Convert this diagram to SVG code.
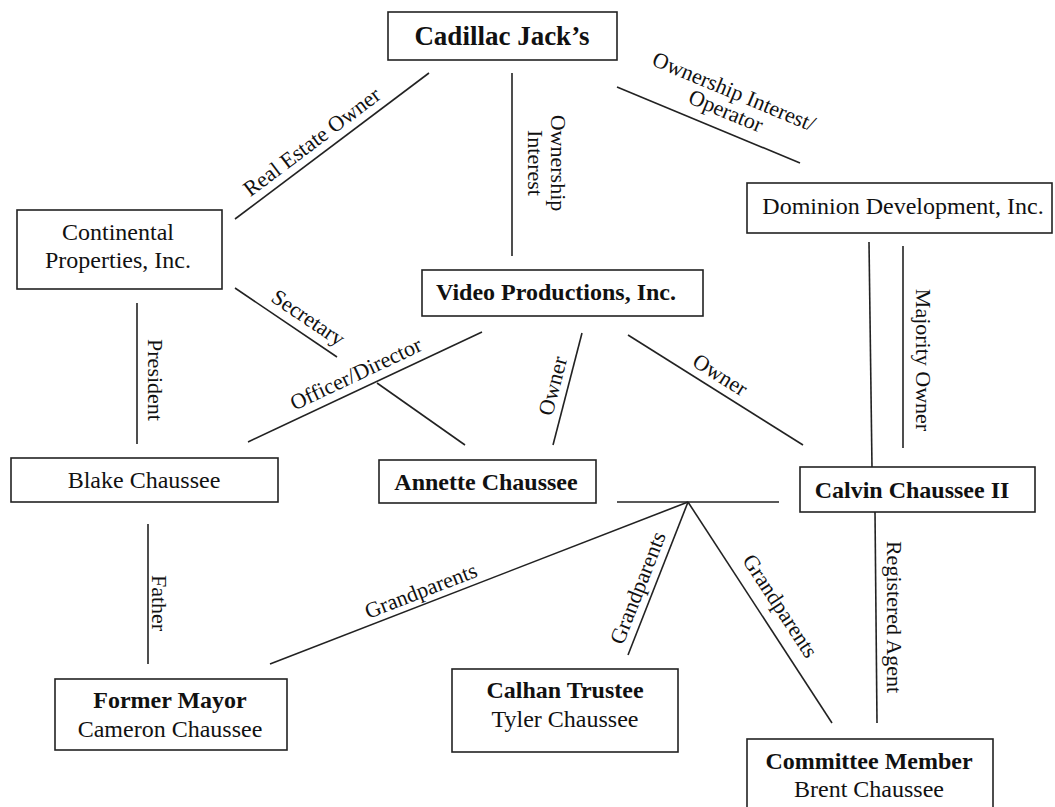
<svg xmlns="http://www.w3.org/2000/svg" width="1055" height="807" viewBox="0 0 1055 807">
<style>
.box{fill:#fff;stroke:#222;stroke-width:1.6}
.t{font-size:24px;fill:#111;text-anchor:middle}
.b{font-weight:bold}
.lbl{font-size:22px;fill:#111;text-anchor:middle}
.c line{stroke:#222;stroke-width:1.6}
</style>
<rect width="1055" height="807" fill="#fff"/>
<g font-family="'Liberation Serif', 'Times New Roman', 'DejaVu Serif', serif">
<g id="connectors" class="c">
<line x1="429" y1="73" x2="235" y2="219"/>
<line x1="512" y1="73" x2="512" y2="256"/>
<line x1="617" y1="87" x2="800" y2="163"/>
<line x1="869" y1="242" x2="872" y2="467"/>
<line x1="903" y1="246" x2="903" y2="448"/>
<line x1="137" y1="303" x2="137" y2="444"/>
<line x1="235" y1="288" x2="337" y2="357"/>
<line x1="248" y1="442" x2="482" y2="332"/>
<line x1="377" y1="383" x2="465" y2="445"/>
<line x1="582" y1="333" x2="553" y2="445"/>
<line x1="628" y1="335" x2="803" y2="445"/>
<line x1="148" y1="524" x2="148" y2="664"/>
<line x1="617" y1="502" x2="779" y2="502"/>
<line x1="688" y1="502" x2="270" y2="664"/>
<line x1="688" y1="502" x2="628" y2="655"/>
<line x1="688" y1="502" x2="832" y2="723"/>
<line x1="875" y1="512" x2="877" y2="723"/>
<g id="labels">
<text class="lbl" transform="translate(312,142) rotate(-37)" y="7">Real Estate Owner</text>
<g transform="translate(540,163) rotate(90)">
<text class="lbl" y="-11">Ownership</text>
<text class="lbl" y="12">Interest</text>
</g>
<g transform="translate(730,101) rotate(22.6)">
<text class="lbl" y="-3">Ownership Interest/</text>
<text class="lbl" y="18">Operator</text>
</g>
<text class="lbl" transform="translate(916,360) rotate(90)">Majority Owner</text>
<text class="lbl" transform="translate(148,380) rotate(90)">President</text>
<text class="lbl" transform="translate(308,318) rotate(34)" y="7">Secretary</text>
<text class="lbl" transform="translate(356,374) rotate(-25.2)" y="7">Officer/Director</text>
<text class="lbl" transform="translate(553,386) rotate(-75.5)" y="7">Owner</text>
<text class="lbl" transform="translate(720,375) rotate(32.2)" y="7">Owner</text>
<text class="lbl" transform="translate(152,603) rotate(90)">Father</text>
<text class="lbl" transform="translate(421,591) rotate(-21.2)" y="7">Grandparents</text>
<text class="lbl" transform="translate(638,588) rotate(-68.6)" y="7">Grandparents</text>
<text class="lbl" transform="translate(780,606) rotate(56.9)" y="7">Grandparents</text>
<text class="lbl" transform="translate(887,617) rotate(90)">Registered Agent</text>
</g>
</g>
<g id="cadillac">
<rect class="box" x="388" y="12" width="229" height="48"/>
<text class="t b" x="502" y="45" style="font-size:27px">Cadillac Jack’s</text>
</g>
<g id="continental">
<rect class="box" x="17" y="210" width="205" height="79"/>
<text class="t" x="118" y="240">Continental</text>
<text class="t" x="118" y="268">Properties, Inc.</text>
</g>
<g id="dominion">
<rect class="box" x="747" y="183" width="305" height="50"/>
<text class="t" x="903" y="214">Dominion Development, Inc.</text>
</g>
<g id="video">
<rect class="box" x="422" y="270" width="281" height="46"/>
<text class="t b" x="556" y="300">Video Productions, Inc.</text>
</g>
<g id="blake">
<rect class="box" x="11" y="458" width="267" height="44"/>
<text class="t" x="144" y="488">Blake Chaussee</text>
</g>
<g id="annette">
<rect class="box" x="379" y="460" width="217" height="43"/>
<text class="t b" x="486" y="490">Annette Chaussee</text>
</g>
<g id="calvin">
<rect class="box" x="800" y="467" width="235" height="45"/>
<text class="t b" x="912" y="498">Calvin Chaussee II</text>
</g>
<g id="mayor">
<rect class="box" x="55" y="679" width="232" height="71"/>
<text class="t b" x="170" y="708">Former Mayor</text>
<text class="t" x="170" y="737">Cameron Chaussee</text>
</g>
<g id="calhan">
<rect class="box" x="452" y="669" width="226" height="83"/>
<text class="t b" x="565" y="698">Calhan Trustee</text>
<text class="t" x="565" y="727">Tyler Chaussee</text>
</g>
<g id="committee">
<rect class="box" x="747" y="739" width="246" height="80"/>
<text class="t b" x="869" y="769">Committee Member</text>
<text class="t" x="869" y="797">Brent Chaussee</text>
</g>
</g>
</svg>
